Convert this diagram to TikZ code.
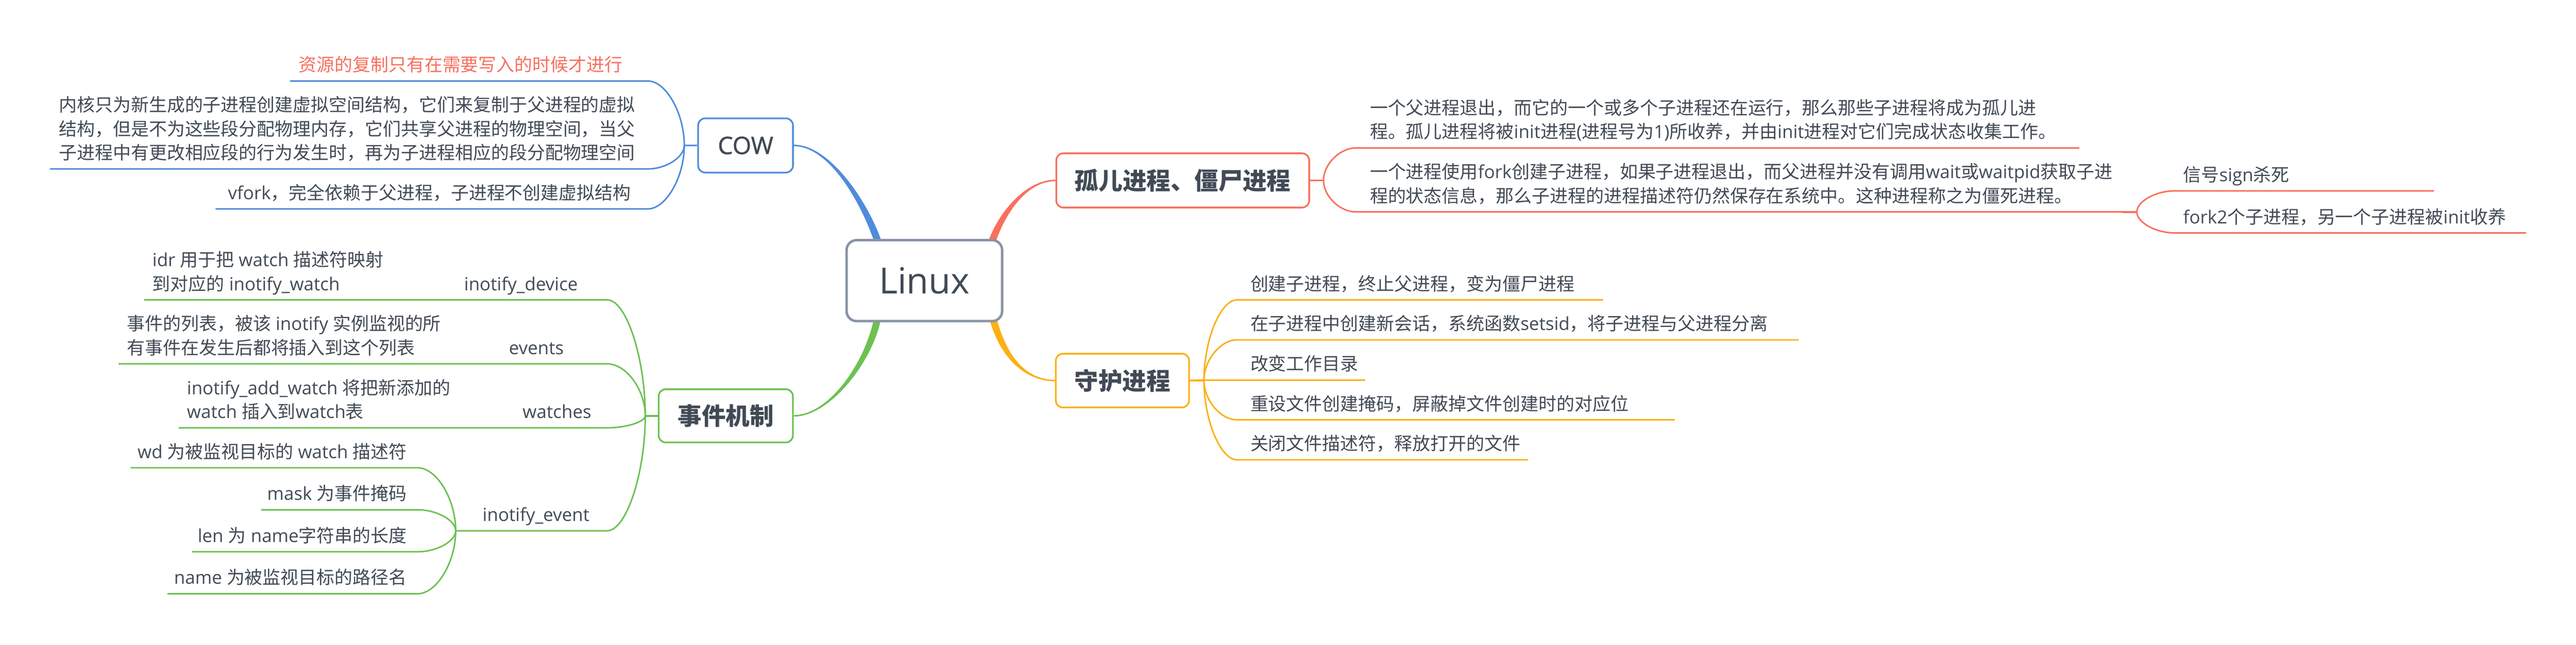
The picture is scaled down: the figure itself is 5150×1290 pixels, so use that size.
\documentclass[tikz,border=0pt]{standalone}
\usepackage{fontspec}
\setmainfont{Open Sans}
\newfontfamily\cjkf{Noto Sans CJK SC}
\usetikzlibrary{calc,backgrounds}
% automatic switch between Latin (Open Sans) and CJK (Noto Sans CJK SC)
\XeTeXinterchartokenstate=1
\newXeTeXintercharclass\CJKcls
\newcount\cjkcnt
\def\setclsrange#1#2#3{\cjkcnt=#1\relax
  \loop\XeTeXcharclass\cjkcnt=#3\relax
  \ifnum\cjkcnt<#2\relax\advance\cjkcnt by 1\relax\repeat}
\setclsrange{"21}{"7E}{0}
\setclsrange{"3000}{"303F}{\CJKcls}
\setclsrange{"4E00}{"9FFF}{\CJKcls}
\setclsrange{"FF00}{"FFEF}{\CJKcls}
\XeTeXinterchartoks 0 \CJKcls = {\cjkf}
\XeTeXinterchartoks 4095 \CJKcls = {\cjkf}
\XeTeXinterchartoks \CJKcls 0 = {\rmfamily}
\XeTeXinterchartoks \CJKcls 4095 = {\rmfamily}

\definecolor{tc}{HTML}{414A55}
\definecolor{cblue}{HTML}{508CDA}
\definecolor{cred}{HTML}{F9705C}
\definecolor{cyel}{HTML}{FCB016}
\definecolor{cgrn}{HTML}{6DC152}
\definecolor{cgray}{HTML}{8A94A6}
\definecolor{ctred}{HTML}{F6705F}

\newcommand\twoln[2]{\vtop{\hbox{#1}\hbox{#2}}}
\newcommand\threeln[3]{\vtop{\hbox{#1}\hbox{#2}\hbox{#3}}}
% underline + connector at its right end (children on the left side)
\newcommand\ulL[6]{\coordinate (#2a) at (#3,#5);\coordinate (#2b) at (#4,#5);
  \draw[ln,#1] (#2a) -- (#2b) .. controls ($(#2b)!.5!(#2b-|#6)$) and ($(#2b-|#6)!.5!(#6)$) .. (#6);}
% underline + connector at its left end (children on the right side)
\newcommand\ulR[6]{\coordinate (#2a) at (#3,#5);\coordinate (#2b) at (#4,#5);
  \draw[ln,#1] (#2b) -- (#2a) .. controls ($(#2a)!.5!(#2a-|#6)$) and ($(#2a-|#6)!.5!(#6)$) .. (#6);}
% tapered main branch
\newcommand\branch[7]{\fill[#1] ($#2+#6$) .. controls ($#3+#6$) and ($#4+#7$) .. ($#5+#7$)
  -- ($#5-#7$) .. controls ($#4-#7$) and ($#3-#6$) .. ($#2-#6$) -- cycle;}

\begin{document}
\begin{tikzpicture}[x=0.25pt,y=-0.25pt,
  tx/.style={font=\fontsize{9pt}{12pt}\selectfont, text=tc, inner sep=0pt, anchor=base west},
  txr/.style={tx, anchor=base east},
  topic/.style={draw, fill=white, line width=0.85pt, rounded corners=3.5pt, inner sep=0pt,
    text=tc, font=\fontsize{12pt}{14pt}\selectfont\bfseries},
  ln/.style={line width=0.75pt},
  stb/.style={line width=1pt}]
\useasboundingbox (0,0) rectangle (5150,1290);

% ---------- topics ----------
\node[draw=cgray, fill=white, line width=1.25pt, rounded corners=5pt, minimum width=77.75pt,
  minimum height=40.5pt, inner sep=0pt, text=tc, font=\fontsize{18pt}{20pt}\selectfont]
  (linux) at (1848,561.5) {Linux};
\node[topic, draw=cblue, minimum width=47.4pt, minimum height=27.1pt,
  font=\fontsize{12pt}{14pt}\selectfont\addfontfeatures{FakeBold=1.2}] (cow) at (1490.5,291) {COW};
\node[topic, draw=cgrn, minimum width=67.1pt, minimum height=26.6pt] (evt) at (1451,832) {事件机制};
\node[topic, draw=cred, minimum width=126.4pt, minimum height=27.1pt] (orph) at (2364.5,361) {孤儿进程、僵尸进程};
\node[topic, draw=cyel, minimum width=66.6pt, minimum height=26.9pt] (daem) at (2244,761.5) {守护进程};

% ---------- COW children ----------
\node[tx, text=ctred] (c1) at (596,143) {资源的复制只有在需要写入的时候才进行};
\node[tx] (c2) at (117,223) {\threeln{内核只为新生成的子进程创建虚拟空间结构，它们来复制于父进程的虚拟}{结构，但是不为这些段分配物理内存，它们共享父进程的物理空间，当父}{子进程中有更改相应段的行为发生时，再为子进程相应的段分配物理空间}};
\node[tx] (c3) at (455,399) {vfork，完全依赖于父进程，子进程不创建虚拟结构};

% ---------- event children ----------
\node[tx] (e1t) at (304,533) {\twoln{idr 用于把 watch 描述符映射}{到对应的 inotify\_watch}};
\node[txr] (e1) at (1156,581) {inotify\_device};
\node[tx] (e2t) at (253,661) {\twoln{事件的列表，被该 inotify 实例监视的所}{有事件在发生后都将插入到这个列表}};
\node[txr] (e2) at (1128,709) {events};
\node[tx] (e3t) at (373,789) {\twoln{inotify\_add\_watch 将把新添加的}{watch 插入到watch表}};
\node[txr] (e3) at (1183,837) {watches};
\node[tx] (e4) at (964,1043) {inotify\_event};
\node[txr] (i1) at (814,917) {wd 为被监视目标的 watch 描述符};
\node[txr] (i2) at (814,1001) {mask 为事件掩码};
\node[txr] (i3) at (814,1085) {len 为 name字符串的长度};
\node[txr] (i4) at (814,1169) {name 为被监视目标的路径名};

% ---------- orphan / zombie children ----------
\node[tx] (o1) at (2738,229) {\twoln{一个父进程退出，而它的一个或多个子进程还在运行，那么那些子进程将成为孤儿进}{程。孤儿进程将被init进程(进程号为1)所收养，并由init进程对它们完成状态收集工作。}};
\node[tx] (o2) at (2738,357) {\twoln{一个进程使用fork创建子进程，如果子进程退出，而父进程并没有调用wait或waitpid获取子进}{程的状态信息，那么子进程的进程描述符仍然保存在系统中。这种进程称之为僵死进程。}};
\node[tx] (z1) at (4364,363) {信号sign杀死};
\node[tx] (z2) at (4364,447) {fork2个子进程，另一个子进程被init收养};

% ---------- daemon children ----------
\node[tx] (d1) at (2499,581) {创建子进程，终止父进程，变为僵尸进程};
\node[tx] (d2) at (2499,661) {在子进程中创建新会话，系统函数setsid，将子进程与父进程分离};
\node[tx] (d3) at (2499,741) {改变工作目录};
\node[tx] (d4) at (2499,821) {重设文件创建掩码，屏蔽掉文件创建时的对应位};
\node[tx] (d5) at (2499,901) {关闭文件描述符，释放打开的文件};

\begin{scope}[on background layer]
\fill[white] (0,0) rectangle (5150,1290);
% main branches
\coordinate (lB) at (1758,492);
\coordinate (lR) at (1981,490);
\coordinate (lG) at (1755,633);
\coordinate (lY) at (1984,633);
\branch{cblue}{(lB)}{(1732,410)}{(1660,291)}{(cow.east)}{(-6.7,2.1)}{(0,1.5)}
\branch{cred}{(lR)}{(2000,430)}{(2050,361)}{(orph.west)}{(-6.7,-2.1)}{(0,-1.5)}
\branch{cgrn}{(lG)}{(1740,720)}{(1660,832)}{(evt.east)}{(6.9,1.2)}{(0,1.5)}
\branch{cyel}{(lY)}{(2005,715)}{(2050,761)}{(daem.west)}{(6.8,-1.7)}{(0,-1.5)}

% COW
\coordinate (jC) at (1368,291);
\draw[stb,cblue] (jC) -- (cow.west);
\ulL{cblue}{uc1}{580}{1295}{162}{jC}
\ulL{cblue}{uc2}{100}{1295}{338}{jC}
\ulL{cblue}{uc3}{431}{1295}{418}{jC}

% event
\coordinate (jE) at (1290,832);
\draw[stb,cgrn] (jE) -- (evt.west);
\ulL{cgrn}{ue1}{288}{1214}{600}{jE}
\ulL{cgrn}{ue2}{237}{1214}{728}{jE}
\ulL{cgrn}{ue3}{357}{1214}{856}{jE}
\coordinate (jI) at (911,1062);
\ulL{cgrn}{ue4}{911}{1214}{1062}{jE}
\ulL{cgrn}{ui1}{261}{835}{936}{jI}
\ulL{cgrn}{ui2}{522}{835}{1020}{jI}
\ulL{cgrn}{ui3}{384}{835}{1104}{jI}
\ulL{cgrn}{ui4}{335}{835}{1188}{jI}

% orphan / zombie
\coordinate (jO) at (2646,361);
\draw[stb,cred] (orph.east) -- (jO);
\ulR{cred}{uo1}{2711}{4157}{296}{jO}
\ulR{cred}{uo2}{2711}{4244}{424}{jO}
\coordinate (jZ) at (4272,424);
\draw[stb,cred] (uo2b) -- (jZ);
\ulR{cred}{uz1}{4347}{4866}{382}{jZ}
\ulR{cred}{uz2}{4347}{5050}{466}{jZ}

% daemon
\coordinate (jD) at (2407,761);
\draw[stb,cyel] (daem.east) -- (jD);
\ulR{cyel}{ud1}{2473}{3205}{600}{jD}
\ulR{cyel}{ud2}{2473}{3596}{680}{jD}
\ulR{cyel}{ud3}{2473}{2729}{761}{jD}
\ulR{cyel}{ud4}{2473}{3348}{840}{jD}
\ulR{cyel}{ud5}{2473}{3055}{920}{jD}
\end{scope}
\end{tikzpicture}
\end{document}
